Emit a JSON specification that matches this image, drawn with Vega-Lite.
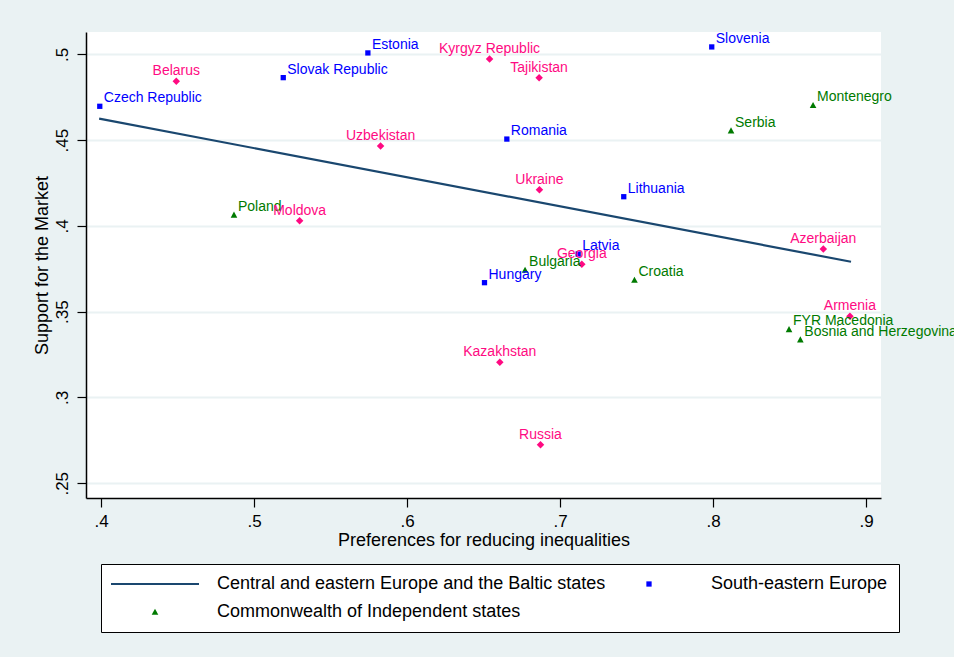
{
  "$schema": "https://vega.github.io/schema/vega-lite/v6.json",
  "width": 795,
  "height": 466,
  "autosize": {"type": "none"},
  "padding": {"left": 86, "top": 32, "right": 73, "bottom": 159},
  "background": "#eaf2f3",
  "config": {
    "font": "Liberation Sans",
    "view": {"fill": "white", "stroke": null},
    "axis": {"labelFont": "Liberation Sans", "titleFont": "Liberation Sans", "labelColor": "black", "titleColor": "black", "domainColor": "black", "tickColor": "black", "titleFontWeight": "normal"},
    "legend": {"title": null, "orient": "none", "legendX": 15, "legendY": 532, "direction": "horizontal", "columns": 2,
      "labelFontSize": 18, "labelFont": "Liberation Sans", "labelColor": "black", "labelLimit": 600,
      "labelOffset": 53, "symbolOffset": 34, "columnPadding": -35, "rowPadding": 10, "padding": 11,
      "strokeColor": "black", "fillColor": "white", "symbolStrokeWidth": 0}
  },
  "datasets": {
    "pts": [
      {"country": "Czech Republic", "x": 0.3992, "y": 0.4697, "group": "South-eastern Europe"},
      {"country": "Slovak Republic", "x": 0.5191, "y": 0.4864, "group": "South-eastern Europe"},
      {"country": "Estonia", "x": 0.5744, "y": 0.5008, "group": "South-eastern Europe"},
      {"country": "Slovenia", "x": 0.7991, "y": 0.5043, "group": "South-eastern Europe"},
      {"country": "Romania", "x": 0.6652, "y": 0.4506, "group": "South-eastern Europe"},
      {"country": "Lithuania", "x": 0.7416, "y": 0.4170, "group": "South-eastern Europe"},
      {"country": "Latvia", "x": 0.7118, "y": 0.3836, "group": "South-eastern Europe"},
      {"country": "Hungary", "x": 0.6506, "y": 0.3669, "group": "South-eastern Europe"},
      {"country": "Poland", "x": 0.4869, "y": 0.4064, "group": "Commonwealth of Independent states"},
      {"country": "Montenegro", "x": 0.8653, "y": 0.4703, "group": "Commonwealth of Independent states"},
      {"country": "Serbia", "x": 0.8117, "y": 0.4555, "group": "Commonwealth of Independent states"},
      {"country": "Bulgaria", "x": 0.6771, "y": 0.3743, "group": "Commonwealth of Independent states"},
      {"country": "Croatia", "x": 0.7486, "y": 0.3685, "group": "Commonwealth of Independent states"},
      {"country": "FYR Macedonia", "x": 0.8496, "y": 0.3397, "group": "Commonwealth of Independent states"},
      {"country": "Bosnia and Herzegovina", "x": 0.8570, "y": 0.3337, "group": "Commonwealth of Independent states"},
      {"country": "Belarus", "x": 0.4492, "y": 0.4843, "group": "Other"},
      {"country": "Kyrgyz Republic", "x": 0.6539, "y": 0.4973, "group": "Other"},
      {"country": "Tajikistan", "x": 0.6863, "y": 0.4864, "group": "Other"},
      {"country": "Uzbekistan", "x": 0.5827, "y": 0.4466, "group": "Other"},
      {"country": "Moldova", "x": 0.5298, "y": 0.4030, "group": "Other"},
      {"country": "Ukraine", "x": 0.6865, "y": 0.4211, "group": "Other"},
      {"country": "Georgia", "x": 0.7142, "y": 0.3776, "group": "Other"},
      {"country": "Azerbaijan", "x": 0.8720, "y": 0.3865, "group": "Other"},
      {"country": "Armenia", "x": 0.8894, "y": 0.3473, "group": "Other"},
      {"country": "Kazakhstan", "x": 0.6606, "y": 0.3205, "group": "Other"},
      {"country": "Russia", "x": 0.6872, "y": 0.2725, "group": "Other"}
    ],
    "fit": [
      {"x": 0.3988, "y": 0.4625, "group": "Central and eastern Europe and the Baltic states"},
      {"x": 0.8901, "y": 0.3791, "group": "Central and eastern Europe and the Baltic states"}
    ]
  },
  "encoding": {
    "x": {"field": "x", "type": "quantitative",
      "scale": {"domain": [0.3902, 0.9097], "nice": false, "zero": false},
      "axis": {"title": "Preferences for reducing inequalities", "values": [0.4, 0.5, 0.6, 0.7, 0.8, 0.9],
        "labelExpr": "substring(format(datum.value, '.2~f'), 1)", "grid": false,
        "labelFontSize": 17, "titleFontSize": 18, "tickSize": 9, "labelPadding": 6, "titlePadding": 2, "domainWidth": 1.5, "tickWidth": 1.2}},
    "y": {"field": "y", "type": "quantitative",
      "scale": {"domain": [0.2414, 0.513], "nice": false, "zero": false},
      "axis": {"title": "Support for the Market", "values": [0.25, 0.3, 0.35, 0.4, 0.45, 0.5],
        "labelExpr": "substring(format(datum.value, '.2~f'), 1)", "labelAngle": -90, "labelAlign": "center", "labelBaseline": "bottom",
        "grid": true, "gridColor": "#eaf2f3", "gridWidth": 2,
        "labelFontSize": 17, "titleFontSize": 18, "tickSize": 9, "labelPadding": 6, "titlePadding": 2, "domainWidth": 1.5, "tickWidth": 1.2}},
    "color": {"field": "group", "type": "nominal",
      "scale": {"domain": ["Central and eastern Europe and the Baltic states", "South-eastern Europe", "Commonwealth of Independent states", "Other"],
                "range": ["#1a476f", "#0000ff", "#007a00", "#ff0a82"]},
      "legend": {"values": ["Central and eastern Europe and the Baltic states", "South-eastern Europe", "Commonwealth of Independent states"],
        "encode": {"symbols": {"update": {"size": {"value": 7744}, "stroke": {"value": "#1a476f"}, "strokeWidth": {"signal": "datum.value === 'Central and eastern Europe and the Baltic states' ? 2.2 : 0"}}}}}}
  },
  "layer": [
    {
      "data": {"name": "fit"},
      "mark": {"type": "line", "strokeWidth": 2.2}
    },
    {
      "data": {"name": "pts"},
      "mark": {"type": "point", "filled": true, "size": 7744, "opacity": 1, "strokeWidth": 0},
      "encoding": {
        "shape": {"field": "group", "type": "nominal",
          "scale": {"domain": ["Central and eastern Europe and the Baltic states", "South-eastern Europe", "Commonwealth of Independent states", "Other"],
                    "range": ["M-1,0H1", "M-0.06,-0.06H0.06V0.06H-0.06Z", "M-0.075,0.065H0.075L0,-0.075Z", "M0,-0.085L0.085,0L0,0.085L-0.085,0Z"]},
          "legend": {"values": ["Central and eastern Europe and the Baltic states", "South-eastern Europe", "Commonwealth of Independent states"],
            "encode": {"symbols": {"update": {"size": {"value": 7744}, "stroke": {"value": "#1a476f"}, "strokeWidth": {"signal": "datum.value === 'Central and eastern Europe and the Baltic states' ? 2.2 : 0"}}}}}}
      }
    },
    {
      "data": {"name": "pts"},
      "transform": [{"filter": "datum.group !== 'Other'"}],
      "mark": {"type": "text", "align": "left", "baseline": "alphabetic", "dx": 4, "dy": -4, "fontSize": 14, "font": "Liberation Sans"},
      "encoding": {"text": {"field": "country"}}
    },
    {
      "data": {"name": "pts"},
      "transform": [{"filter": "datum.group === 'Other'"}],
      "mark": {"type": "text", "align": "center", "baseline": "alphabetic", "dy": -6, "fontSize": 14, "font": "Liberation Sans"},
      "encoding": {"text": {"field": "country"}}
    }
  ]
}
